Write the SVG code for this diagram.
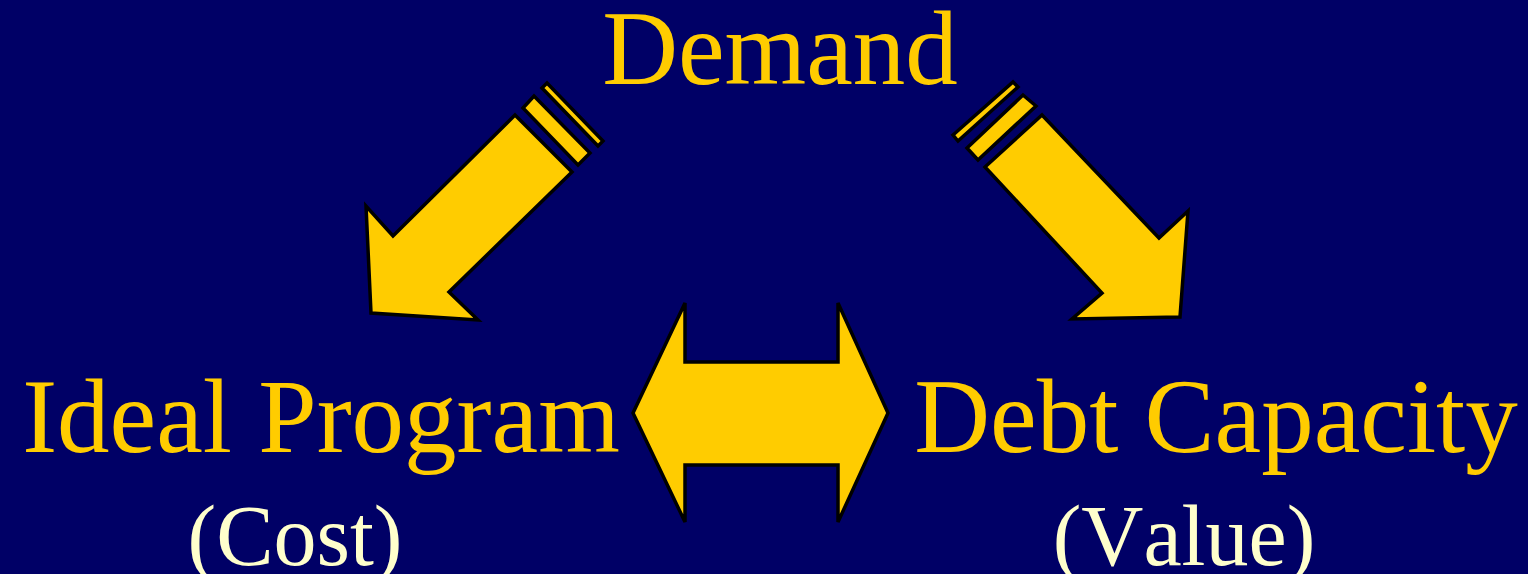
<svg xmlns="http://www.w3.org/2000/svg" width="1528" height="574" viewBox="0 0 1528 574">
  <style>
    .shape { fill: #FFCC00; stroke: #000000; stroke-width: 3.5; stroke-linejoin: miter; }
    .title { font-family: "Liberation Serif", "Times New Roman", serif; font-size: 105px; fill: #FFCC00; text-anchor: middle; }
    .sub { font-family: "Liberation Serif", "Times New Roman", serif; font-size: 86px; fill: #FFFFCC; text-anchor: middle; font-kerning: none; }
  </style>
  <rect width="1528" height="574" fill="#000066"/>

  <g id="demand">
    <text class="title" x="780" y="84">Demand</text>
  </g>

  <g id="ideal-program">
    <text class="title" x="321" y="452">Ideal Program</text>
    <text class="sub" x="295" y="565">(Cost)</text>
  </g>

  <g id="debt-capacity">
    <text class="title" x="1216" y="452">Debt Capacity</text>
    <text class="sub" x="1184" y="565">(Value)</text>
  </g>

  <g id="connectors">
    <!-- Demand to Ideal Program -->
    <g id="arrow-left">
      <polygon class="shape" points="542,88 547,83 603,141 598,146"/>
      <polygon class="shape" points="523,108 534,96 590,153 578,165"/>
      <polygon class="shape" points="515,115 572,172 449,292 478,320 371,313 366,206 393,236"/>
    </g>
    <!-- Demand to Debt Capacity -->
    <g id="arrow-right">
      <polygon class="shape" points="953,135 1013,82 1018,87 958,141"/>
      <polygon class="shape" points="967,148 1023,95 1036,106 978,160"/>
      <polygon class="shape" points="985,167 1042,115 1159,238 1188,211 1180,317 1072,319 1102,293"/>
    </g>
    <!-- Ideal Program to/from Debt Capacity -->
    <g id="arrow-both">
      <polygon class="shape" points="633,413 685,303 685,362 838,362 838,303 888,413 838,522 838,465 685,465 685,522"/>
    </g>
  </g>
</svg>
